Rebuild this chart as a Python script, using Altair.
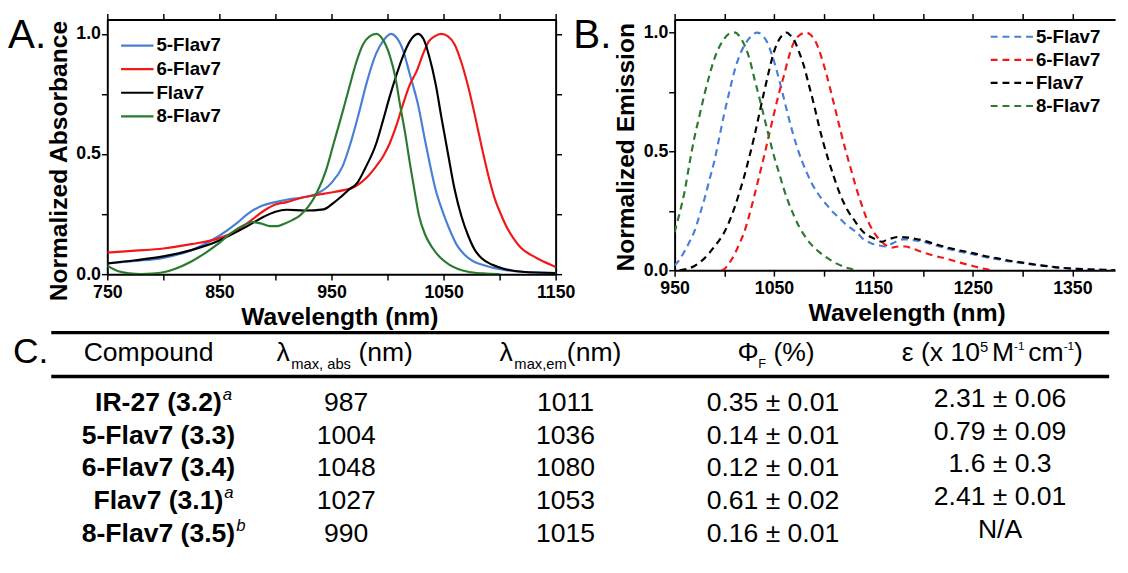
import altair as alt
import pandas as pd

FONT = "Liberation Sans"
SERIES = ["5-Flav7", "6-Flav7", "Flav7", "8-Flav7"]
COLORS = ["#4a7fd6", "#f01818", "#000000", "#2a7a30"]

# ---------------- Panel A: absorbance ----------------
abs_5flav7_wl = [750, 775, 800, 825, 850, 865, 875, 888, 900, 910, 925, 937, 950, 960, 967, 975, 981, 990, 996, 1003,
                 1008, 1014, 1020, 1027, 1034, 1043, 1050, 1055, 1062, 1069, 1076, 1084, 1093, 1102, 1120, 1150]
abs_5flav7_v = [0.045, 0.055, 0.068, 0.10, 0.16, 0.21, 0.25, 0.285, 0.30, 0.31, 0.32, 0.335, 0.38, 0.45, 0.545, 0.68,
                0.79, 0.92, 0.97, 1.0, 0.985, 0.93, 0.83, 0.71, 0.545, 0.35, 0.25, 0.19, 0.12, 0.08, 0.055, 0.04,
                0.028, 0.02, 0.01, 0.005]

abs_6flav7_wl = [750, 775, 800, 825, 850, 865, 880, 890, 900, 910, 925, 937, 950, 961, 970, 976, 983, 990, 996, 1002,
                 1008, 1014, 1020, 1026, 1032, 1037, 1042, 1048, 1054, 1060, 1066, 1072, 1078, 1084, 1090, 1096, 1102,
                 1107, 1113, 1119, 1128, 1136, 1150]
abs_6flav7_v = [0.09, 0.098, 0.107, 0.125, 0.15, 0.18, 0.23, 0.265, 0.29, 0.30, 0.32, 0.33, 0.34, 0.35, 0.362, 0.38,
                0.41, 0.45, 0.49, 0.545, 0.62, 0.71, 0.79, 0.845, 0.92, 0.97, 0.99, 1.0, 0.99, 0.955, 0.88, 0.78, 0.66,
                0.53, 0.41, 0.31, 0.24, 0.19, 0.145, 0.11, 0.08, 0.06, 0.03]

abs_flav7_wl = [750, 775, 800, 825, 850, 865, 875, 890, 900, 910, 926, 943, 950, 958, 965, 973, 980, 990, 996, 1002,
                1008, 1014, 1020, 1027, 1032, 1037, 1043, 1048, 1054, 1060, 1066, 1072, 1078, 1084, 1093, 1102, 1120,
                1150]
abs_flav7_v = [0.045, 0.058, 0.074, 0.10, 0.14, 0.175, 0.20, 0.24, 0.26, 0.268, 0.265, 0.27, 0.29, 0.32, 0.35, 0.38,
               0.44, 0.545, 0.64, 0.74, 0.83, 0.91, 0.97, 1.0, 0.98, 0.91, 0.79, 0.655, 0.50, 0.35, 0.24, 0.16, 0.10,
               0.066, 0.04, 0.025, 0.01, 0.005]

abs_8flav7_wl = [750, 760, 770, 780, 790, 800, 812, 825, 838, 850, 860, 870, 880, 888, 895, 902, 908, 915, 922, 930,
                 937, 945, 952, 959, 966, 972, 978, 984, 990, 996, 1002, 1007, 1011, 1016, 1020, 1024, 1028, 1034,
                 1040, 1048, 1055, 1063, 1072, 1085, 1100]
abs_8flav7_v = [0.035, 0.012, 0.003, 0.0, 0.002, 0.008, 0.025, 0.053, 0.09, 0.13, 0.17, 0.20, 0.217, 0.21, 0.20, 0.20,
                0.21, 0.225, 0.245, 0.285, 0.34, 0.43, 0.545, 0.66, 0.78, 0.88, 0.955, 0.99, 1.0, 0.975, 0.91, 0.82,
                0.71, 0.58, 0.46, 0.35, 0.245, 0.16, 0.11, 0.065, 0.04, 0.022, 0.01, 0.003, 0.0]

# ---------------- Panel B: emission ----------------
em_5flav7_wl = [950, 955, 960, 965, 970, 975, 980, 985, 990, 995, 1000, 1005, 1010, 1015, 1020, 1026, 1033, 1038, 1043,
                1048, 1053, 1058, 1063, 1068, 1073, 1078, 1083, 1088, 1093, 1098, 1103, 1108, 1113, 1118, 1123, 1128,
                1133, 1140, 1147, 1155, 1162, 1170, 1180, 1190, 1200, 1212, 1225, 1237, 1250, 1262, 1275, 1287, 1300,
                1312, 1325, 1337, 1350, 1365, 1380, 1395]
em_5flav7_v = [0.02, 0.045, 0.08, 0.12, 0.165, 0.23, 0.30, 0.38, 0.46, 0.56, 0.66, 0.75, 0.835, 0.90, 0.945, 0.98, 1.0,
               0.99, 0.96, 0.905, 0.835, 0.755, 0.67, 0.59, 0.52, 0.46, 0.41, 0.365, 0.33, 0.30, 0.275, 0.25, 0.23,
               0.21, 0.19, 0.175, 0.16, 0.13, 0.115, 0.105, 0.10, 0.115, 0.13, 0.127, 0.12, 0.105, 0.09, 0.078, 0.067,
               0.056, 0.046, 0.037, 0.03, 0.023, 0.017, 0.011, 0.007, 0.004, 0.002, 0.0]

em_6flav7_wl = [997, 1000, 1005, 1010, 1015, 1020, 1025, 1030, 1035, 1040, 1045, 1050, 1055, 1060, 1065, 1070, 1076,
                1082, 1087, 1092, 1097, 1102, 1107, 1112, 1117, 1122, 1127, 1132, 1137, 1142, 1147, 1152, 1157, 1162,
                1168, 1175, 1182, 1190, 1200, 1212, 1225, 1237, 1250, 1260, 1270]
em_6flav7_v = [0.0, 0.005, 0.03, 0.065, 0.11, 0.16, 0.23, 0.31, 0.395, 0.48, 0.57, 0.66, 0.745, 0.82, 0.90, 0.96, 0.99,
               1.0, 0.99, 0.96, 0.905, 0.835, 0.755, 0.67, 0.585, 0.505, 0.43, 0.355, 0.29, 0.23, 0.185, 0.15, 0.125,
               0.107, 0.095, 0.10, 0.10, 0.09, 0.075, 0.06, 0.047, 0.032, 0.018, 0.007, 0.0]

em_flav7_wl = [955, 962, 970, 975, 980, 985, 990, 995, 1000, 1005, 1010, 1015, 1020, 1025, 1030, 1035, 1040, 1045, 1050,
               1055, 1060, 1063, 1066, 1070, 1075, 1080, 1085, 1090, 1095, 1100, 1105, 1110, 1115, 1120, 1125, 1130,
               1135, 1140, 1145, 1150, 1158, 1165, 1175, 1185, 1200, 1212, 1225, 1237, 1250, 1262, 1275, 1287, 1300,
               1312, 1325, 1337, 1350, 1365, 1380, 1395]
em_flav7_v = [0.0, 0.005, 0.018, 0.032, 0.05, 0.073, 0.10, 0.127, 0.16, 0.205, 0.26, 0.325, 0.395, 0.475, 0.56, 0.655,
              0.75, 0.84, 0.92, 0.97, 0.995, 1.0, 0.99, 0.97, 0.92, 0.86, 0.78, 0.70, 0.61, 0.53, 0.46, 0.395, 0.335,
              0.285, 0.245, 0.215, 0.185, 0.16, 0.145, 0.135, 0.12, 0.13, 0.14, 0.137, 0.125, 0.11, 0.095, 0.083,
              0.072, 0.06, 0.05, 0.04, 0.032, 0.024, 0.017, 0.011, 0.007, 0.004, 0.002, 0.0]

em_8flav7_wl = [950, 955, 960, 965, 970, 975, 980, 985, 990, 995, 1000, 1005, 1011, 1016, 1021, 1026, 1030, 1035, 1040,
                1045, 1050, 1055, 1060, 1065, 1070, 1075, 1080, 1086, 1093, 1100, 1106, 1112, 1119, 1125, 1132]
em_8flav7_v = [0.16, 0.24, 0.33, 0.45, 0.56, 0.65, 0.74, 0.82, 0.89, 0.94, 0.975, 0.995, 1.0, 0.98, 0.94, 0.88, 0.81,
               0.73, 0.645, 0.56, 0.48, 0.41, 0.34, 0.28, 0.23, 0.185, 0.15, 0.115, 0.085, 0.062, 0.045, 0.03, 0.017,
               0.008, 0.0]

# ---------------- Panel C: table ----------------
compounds = ["IR-27 (3.2)", "5-Flav7 (3.3)", "6-Flav7 (3.4)", "Flav7 (3.1)", "8-Flav7 (3.5)"]
notes = ["a", "", "", "a", "b"]
lam_abs = ["987", "1004", "1048", "1027", "990"]
lam_em = ["1011", "1036", "1080", "1053", "1015"]
phi_f = ["0.35 ± 0.01", "0.14 ± 0.01", "0.12 ± 0.01", "0.61 ± 0.02", "0.16 ± 0.01"]
eps_vals = ["2.31 ± 0.06", "0.79 ± 0.09", "1.6 ± 0.3", "2.41 ± 0.01", "N/A"]


def series_frame(parts):
    return pd.concat([pd.DataFrame({"wl": w, "v": v, "s": n}) for n, w, v in parts], ignore_index=True)


abs_df = series_frame([
    ("5-Flav7", abs_5flav7_wl, abs_5flav7_v),
    ("6-Flav7", abs_6flav7_wl, abs_6flav7_v),
    ("Flav7", abs_flav7_wl, abs_flav7_v),
    ("8-Flav7", abs_8flav7_wl, abs_8flav7_v),
])
em_df = series_frame([
    ("5-Flav7", em_5flav7_wl, em_5flav7_v),
    ("6-Flav7", em_6flav7_wl, em_6flav7_v),
    ("Flav7", em_flav7_wl, em_flav7_v),
    ("8-Flav7", em_8flav7_wl, em_8flav7_v),
])

ONE = pd.DataFrame({"k": [0]})
Y_TICKS = [0, 0.25, 0.5, 0.75, 1.0]
Y_LABELS = "datum.value % 0.5 == 0 ? format(datum.value, '.1f') : ''"


def letter(t, x, y, size):
    return alt.Chart(ONE).mark_text(
        text=t, font=FONT, fontSize=size, align="left", baseline="alphabetic", color="black"
    ).encode(x=alt.value(x), y=alt.value(y))


def panel(df, xdom, ydom, w, h, xticks, first, ytitle, ytitle_y, dash, legend_x, legend_y, sym_size,
          label_offset, row_pad, letter_text, letter_x, right_axis):
    xs = alt.Scale(domain=xdom, nice=False, zero=False)
    ys = alt.Scale(domain=ydom, nice=False, zero=False)
    mark_kw = dict(strokeWidth=2.2, interpolate="monotone", clip=True)
    leg_kw = dict(title=None, orient="none", legendX=legend_x, legendY=legend_y,
                  symbolType="M-2,0H2", symbolSize=sym_size, symbolStrokeWidth=2.2,
                  labelFont=FONT, labelFontSize=19, labelFontWeight="bold", labelColor="black",
                  labelOffset=label_offset, rowPadding=row_pad, padding=0)
    if dash:
        mark_kw["strokeDash"] = dash
        leg_kw["symbolDash"] = dash
    lines = alt.Chart(df).mark_line(**mark_kw).encode(
        x=alt.X("wl:Q", scale=xs, axis=alt.Axis(
            orient="bottom", values=xticks, format="d",
            labelExpr=f"(datum.value - {first}) % 100 == 0 ? datum.label : ''",
            title="Wavelength (nm)", titleX=236, titlePadding=3, labelPadding=4)),
        y=alt.Y("v:Q", scale=ys, axis=alt.Axis(
            orient="left", values=Y_TICKS, labelExpr=Y_LABELS, labelPadding=1,
            title=ytitle, titleX=-50, titleY=ytitle_y, titleBaseline="middle")),
        color=alt.Color("s:N", scale=alt.Scale(domain=SERIES, range=COLORS), legend=alt.Legend(**leg_kw)),
        order=alt.Order("wl:Q"),
    )
    frame = alt.Chart(df).mark_point(opacity=0).encode(
        x=alt.X("wl:Q", scale=xs, axis=alt.Axis(orient="top", values=xticks, labels=False, title=None)),
        y=alt.Y("v:Q", scale=ys, axis=(alt.Axis(orient="right", values=Y_TICKS, labels=False, title=None)
                                       if right_axis else None)),
    )
    return alt.layer(lines, frame, letter(letter_text, letter_x, 29, 41)).resolve_axis(
        x="independent", y="independent").properties(width=w, height=h)


panel_a = panel(abs_df, [750, 1150], [0, 1.06], 456, 259, list(range(750, 1151, 50)), 750,
                "Normalized Absorbance", 143.5, None, 21, 17, 272, 10, 4, "A.", -101, True)
panel_b = panel(em_df, [950, 1393], [0, 1.055], 448, 255, list(range(950, 1351, 50)), 950,
                "Normalized Emission", 129.5, [7, 5], 331, 5.5, 462, 12.5, 1.5, "B.", -103, False)

top = alt.hconcat(panel_a, panel_b, spacing=-2).resolve_scale(color="independent")

# ---------------- table chart (origin aligned with panel A's plot origin, page x=109) ----------------
REG = {' ': 278, '(': 333, ')': 333, ',': 278, '-': 333, '%': 889, 'M': 833, 'F': 611, 'a': 556, 'b': 556,
       'c': 500, 'e': 556, 'm': 833, 'n': 556, 's': 500, 'x': 500, 'λ': 556, 'Φ': 778, 'ε': 450}
BOLD = {' ': 278, '(': 333, ')': 333, '.': 278, '-': 333, 'I': 278, 'R': 722, 'F': 611, 'l': 278, 'a': 556,
        'v': 556}


def tw(s, size, table):
    return sum(table.get(ch, 556) for ch in s) / 1000.0 * size


def label(s, x, y, size, weight="normal", style="normal", align="left"):
    return alt.Chart(ONE).mark_text(
        text=s, font=FONT, fontSize=size, fontWeight=weight, fontStyle=style, align=align,
        baseline="alphabetic", color="black"
    ).encode(x=alt.value(x), y=alt.value(y))


FS = 27           # table font size
OX = 109          # page x of the table origin
TW = 1128 - OX    # table width
HB, SB = 32, 40   # header baseline, subscript baseline
layers = []
layers.append(alt.Chart(ONE).mark_rule(color="black", strokeWidth=3.4).encode(
    x=alt.value(52 - OX), x2=alt.value(TW), y=alt.value(3.5)))
layers.append(alt.Chart(ONE).mark_rule(color="black", strokeWidth=3.6).encode(
    x=alt.value(52 - OX), x2=alt.value(TW), y=alt.value(48)))
layers.append(label("C.", 13 - OX, 34, 36))
layers.append(label("Compound", 151 - OX, HB, FS, align="center"))


def chain(pieces, x0):
    out, x = [], x0 - OX
    for text, size, base, gap in pieces:
        x += gap
        out.append(label(text, x, base, size))
        x += tw(text, size, REG)
    return out


sp = tw(" ", FS, REG)
layers += chain([("λ", FS, HB, 0), ("max, abs", 15, SB, 0), ("(nm)", FS, HB, sp)], 281)
layers += chain([("λ", FS, HB, 0), ("max,em", 15, SB, 0), ("(nm)", FS, HB, 0)], 508)
layers += chain([("Φ", FS, HB, 0), ("F", 13, SB - 1, 0), ("(%)", FS, HB, sp)], 750)
layers += chain([("ε (x 10", FS, HB, 0), ("5", 15, 23, 0), ("M", FS, HB, sp * 0.5), ("-1", 12, 21, 0),
                 ("cm", FS, HB, sp * 0.5), ("-1", 12, 21, 0), (")", FS, HB, 0)], 917)

tbl = pd.DataFrame({"row": list(range(5)), "compound": compounds, "note": notes, "abs": lam_abs,
                    "em": lam_em, "phi": phi_f, "eps": eps_vals})
COLX = alt.Scale(domain=[0, 1, 2, 3, 4], range=[161 - OX, 352 - OX, 575 - OX, 786 - OX, 1017 - OX],
                 zero=False, nice=False)
ROWY = alt.Scale(domain=[0, 4], range=[83, 216], zero=False, nice=False)


def col_layer(field, idx, bold=False, dy=0):
    return alt.Chart(tbl).transform_calculate(col=str(idx)).mark_text(
        font=FONT, fontSize=FS, fontWeight="bold" if bold else "normal", baseline="alphabetic",
        align="center", dy=dy, color="black"
    ).encode(
        x=alt.X("col:Q", scale=COLX, axis=None),
        y=alt.Y("row:Q", scale=ROWY, axis=None),
        text=alt.Text(f"{field}:N"),
    )


layers.append(col_layer("compound", 0, bold=True))
layers.append(col_layer("abs", 1))
layers.append(col_layer("em", 2))
layers.append(col_layer("phi", 3))
layers.append(col_layer("eps", 4, dy=-4))

for i, (name, note) in enumerate(zip(compounds, notes)):
    if note:
        layers.append(alt.Chart(tbl).transform_filter(f"datum.row == {i}").transform_calculate(col="0").mark_text(
            font=FONT, fontSize=17, fontStyle="italic", align="left", baseline="alphabetic",
            dx=tw(name, FS, BOLD) / 2 + 1, dy=-11, color="black"
        ).encode(
            x=alt.X("col:Q", scale=COLX, axis=None),
            y=alt.Y("row:Q", scale=ROWY, axis=None),
            text=alt.Text("note:N"),
        ))

table = alt.layer(*layers).properties(width=TW, height=230)

chart = alt.vconcat(top, table, spacing=0).properties(padding=0, background="white").configure_view(
    stroke=None
).configure_axis(
    labelFont=FONT, labelFontSize=18, labelFontWeight="bold", labelColor="black",
    titleFont=FONT, titleFontSize=25, titleFontWeight="bold", titleColor="black",
    domainColor="black", domainWidth=2, tickColor="black", tickWidth=1.5, tickSize=6,
    grid=False, labelFlush=False, labelOverlap=False,
)

chart.save("out.html", embed_options={"renderer": "svg", "actions": False})
